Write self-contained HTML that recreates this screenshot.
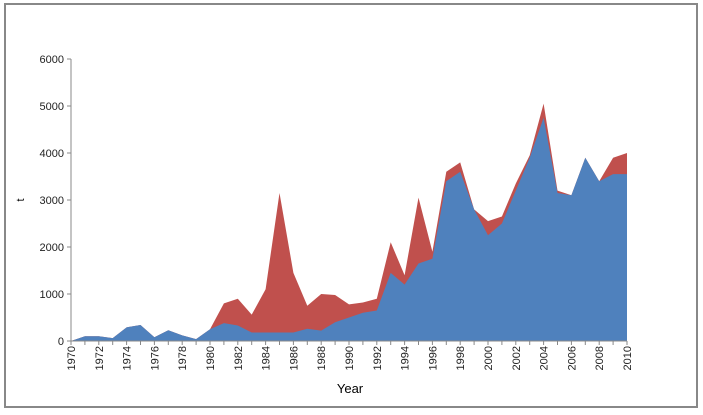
<!DOCTYPE html>
<html><head><meta charset="utf-8"><style>
body{margin:0;background:#fff;}
svg{display:block;font-family:"Liberation Sans",sans-serif;}
</style></head><body>
<svg id="chart" width="703" height="415">
<rect x="5" y="4" width="692" height="403" fill="#fff" stroke="#888" stroke-width="2"/>
<g id="plot"></g>
<text x="350" y="393" font-size="13" text-anchor="middle">Year</text>
<text x="24" y="200" font-size="11" text-anchor="middle" transform="rotate(-90 24 200)">t</text>
</svg>
<script>
const years=[];for(let y=1970;y<=2010;y++)years.push(y);
const blueValues=[0,100,100,60,290,340,80,230,120,40,250,380,330,180,180,180,180,260,220,400,500,600,650,1450,1200,1650,1750,3400,3600,2800,2250,2500,3200,3900,4750,3150,3100,3900,3400,3550,3550];
const totalValues=[0,100,100,60,290,340,80,230,120,40,250,800,900,560,1100,3150,1450,750,1000,980,780,820,900,2100,1400,3050,1900,3600,3800,2800,2550,2650,3350,3950,5050,3200,3100,3900,3400,3900,4000];
const yTicks=[0,1000,2000,3000,4000,5000,6000];
const NS='http://www.w3.org/2000/svg';
const x0=71,x1=627,yb=341,yt=59;
const xs=y=>x0+(y-1970)*(x1-x0)/40;
const ys=v=>yb-v*(yb-yt)/6000;
const g=document.getElementById('plot');
function mk(t,a){const e=document.createElementNS(NS,t);for(const k in a)e.setAttribute(k,a[k]);g.appendChild(e);return e;}
function area(vals,fill,name){
 let d='M'+xs(years[0])+','+yb;
 vals.forEach((v,i)=>d+=' L'+xs(years[i])+','+ys(v));
 d+=' L'+xs(years[years.length-1])+','+yb+' Z';
 const p=mk('path',{d:d,fill:fill});
 
 
}
area(totalValues,'#c0504d','red-series-area');
area(blueValues,'#4f81bd','blue-series-area');
const ax=mk('line',{x1:x0,y1:yt,x2:x0,y2:yb,stroke:'#888'});


const bx=mk('line',{x1:x0,y1:yb,x2:x1,y2:yb,stroke:'#888'});


yTicks.forEach(v=>{
 mk('line',{x1:x0-4,y1:ys(v),x2:x0,y2:ys(v),stroke:'#888'});
 const t=mk('text',{x:x0-7,y:ys(v)+4,'font-size':11,'text-anchor':'end',fill:'#222'});
 t.textContent=v;
 
 
});
years.forEach(y=>{
 mk('line',{x1:xs(y),y1:yb,x2:xs(y),y2:yb+4,stroke:'#888'});
 if((y-1970)%2===0){
  const t=mk('text',{x:xs(y)+4,y:yb+5,'font-size':11,'text-anchor':'end',fill:'#222',transform:'rotate(-90 '+(xs(y)+4)+' '+(yb+5)+')'});
  t.textContent=y;
  
  
 }
});
</script>
</body></html>
